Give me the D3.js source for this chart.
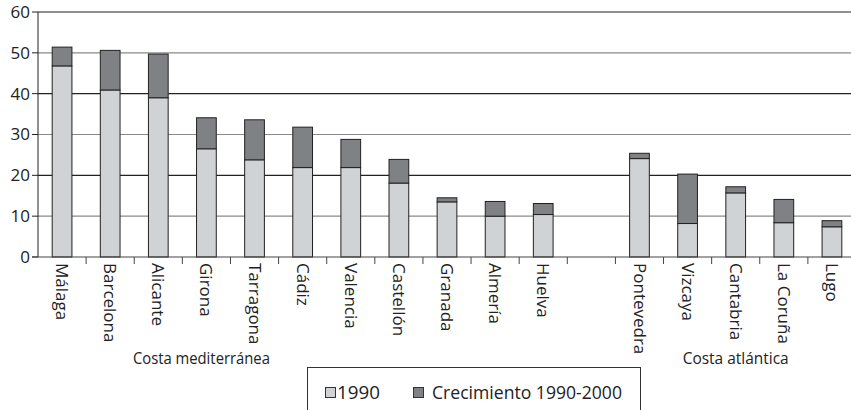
<!DOCTYPE html>
<html>
<head>
<meta charset="utf-8">
<script src="https://cdn.jsdelivr.net/npm/d3@7"></script>
<style>
  body { margin: 0; background: #fff; }
  svg text { font-family: "Open Sans", sans-serif; fill: #222; }
</style>
</head>
<body>
<div id="chart"></div>
<script>
// Provinces, with an empty slot between the two coasts
const provinces = ['Málaga', 'Barcelona', 'Alicante', 'Girona', 'Tarragona', 'Cádiz', 'Valencia',
    'Castellón', 'Granada', 'Almería', 'Huelva', '', 'Pontevedra', 'Vizcaya', 'Cantabria', 'La Coruña', 'Lugo'];
const values1990 = [46.8, 40.9, 39.0, 26.5, 23.8, 21.9, 21.9, 18.1, 13.5, 10.0, 10.4, 0, 24.1, 8.2, 15.7, 8.4, 7.4];
const growth = [4.6, 9.7, 10.7, 7.6, 9.8, 9.9, 6.9, 5.8, 1.0, 3.6, 2.7, 0, 1.3, 12.1, 1.5, 5.7, 1.5];
const yTicks = [0, 10, 20, 30, 40, 50, 60];
const seriesNames = ['1990', 'Crecimiento 1990-2000'];
const groupNames = ['Costa mediterránea', 'Costa atlántica'];

const width = 851;
const height = 410;
const colors = ['#d1d2d4', '#808184'];

const svg = d3.select('#chart')
    .append('svg')
    .attr('width', width)
    .attr('height', height);

const x = d3.scaleBand()
    .domain(provinces.map((d, i) => i))
    .range([38, 856])
    .paddingInner(0.59)
    .paddingOuter(0.295);

const y = d3.scaleLinear()
    .domain([0, 60])
    .range([257, 12]);

// Gridlines (alternating dark / grey as in the print)
svg.selectAll('.grid')
    .data(yTicks.filter(d => d > 0))
    .enter()
    .append('line')
    .attr('x1', 38)
    .attr('x2', width)
    .attr('y1', d => y(d))
    .attr('y2', d => y(d))
    .attr('stroke', d => (d % 20 === 0) ? '#222' : '#8a8a8a')
    .attr('stroke-width', 1.2);

// Stacked bars
const rows = provinces.map((p, i) => ({ i, p, a: values1990[i], b: growth[i] }))
    .filter(d => d.p !== '');

const bars = svg.selectAll('.bar')
    .data(rows)
    .enter()
    .append('g');

bars.append('rect')
    .attr('x', d => x(d.i))
    .attr('width', x.bandwidth())
    .attr('y', d => y(d.a))
    .attr('height', d => y(0) - y(d.a))
    .attr('fill', colors[0])
    .attr('stroke', '#222')
    .attr('stroke-width', 1);

bars.append('rect')
    .attr('x', d => x(d.i))
    .attr('width', x.bandwidth())
    .attr('y', d => y(d.a + d.b))
    .attr('height', d => y(d.a) - y(d.a + d.b))
    .attr('fill', colors[1])
    .attr('stroke', '#222')
    .attr('stroke-width', 1);

// Y axis
svg.append('line')
    .attr('x1', 38).attr('x2', 38)
    .attr('y1', y(60)).attr('y2', y(0))
    .attr('stroke', '#222');

svg.selectAll('.ytick')
    .data(yTicks)
    .enter()
    .append('line')
    .attr('x1', 32).attr('x2', 38)
    .attr('y1', d => y(d)).attr('y2', d => y(d))
    .attr('stroke', '#222');

svg.selectAll('.ylabel')
    .data(yTicks)
    .enter()
    .append('text')
    .attr('x', 30)
    .attr('y', d => y(d))
    .attr('dy', '0.35em')
    .attr('text-anchor', 'end')
    .style('font-size', '17px')
    .text(d => d);

// X axis
svg.append('line')
    .attr('x1', 32).attr('x2', width)
    .attr('y1', y(0)).attr('y2', y(0))
    .attr('stroke', '#444')
    .attr('stroke-width', 1.2);

svg.selectAll('.xtick')
    .data(provinces.map((d, i) => i).slice(1))
    .enter()
    .append('line')
    .attr('x1', d => x(d) - x.step() * x.paddingInner() / 2)
    .attr('x2', d => x(d) - x.step() * x.paddingInner() / 2)
    .attr('y1', y(0)).attr('y2', y(0) + 7)
    .attr('stroke', '#444');

svg.selectAll('.xlabel')
    .data(rows)
    .enter()
    .append('text')
    .attr('transform', d => `translate(${x(d.i) + x.bandwidth() / 2}, 263) rotate(90)`)
    .attr('dy', '0.35em')
    .style('font-size', '17px')
    .text(d => d.p);

// Group labels
svg.append('text')
    .attr('x', x(3) + x.bandwidth() / 2 - 5)
    .attr('y', 364)
    .attr('text-anchor', 'middle')
    .attr('textLength', 137)
    .attr('lengthAdjust', 'spacingAndGlyphs')
    .style('font-size', '17px')
    .text(groupNames[0]);

svg.append('text')
    .attr('x', (x(12) + x(16) + x.bandwidth()) / 2)
    .attr('y', 364)
    .attr('text-anchor', 'middle')
    .attr('textLength', 106)
    .attr('lengthAdjust', 'spacingAndGlyphs')
    .style('font-size', '17px')
    .text(groupNames[1]);

// Legend
const legend = svg.append('g');
legend.append('rect')
    .attr('x', 307.5).attr('y', 367.5)
    .attr('width', 333).attr('height', 60)
    .attr('fill', 'none')
    .attr('stroke', '#333');

const legendItems = [
    { name: seriesNames[0], color: colors[0], sx: 325, tx: 337, tw: 43 },
    { name: seriesNames[1], color: colors[1], sx: 413, tx: 432, tw: 190 }
];

legendItems.forEach(d => {
    legend.append('rect')
        .attr('x', d.sx + 0.5).attr('y', 387.5)
        .attr('width', 10).attr('height', 10)
        .attr('fill', d.color)
        .attr('stroke', '#333');
    legend.append('text')
        .attr('x', d.tx)
        .attr('y', 399)
        .attr('textLength', d.tw)
        .attr('lengthAdjust', 'spacingAndGlyphs')
        .style('font-size', '18px')
        .text(d.name);
});
</script>
</body>
</html>
